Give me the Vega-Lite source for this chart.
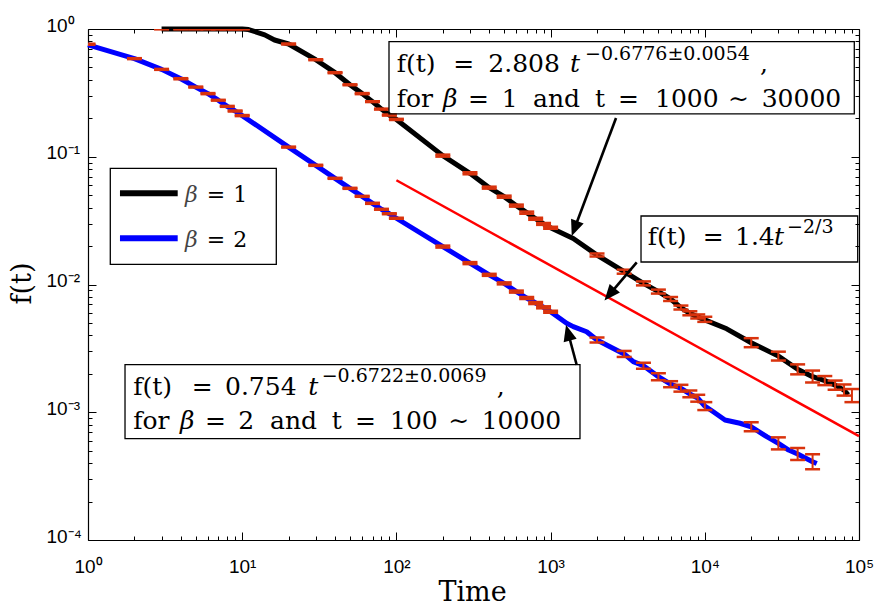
{
  "$schema": "https://vega.github.io/schema/vega-lite/v6.json",
  "width": 771,
  "height": 511,
  "autosize": {"type": "none"},
  "padding": {"left": 88, "top": 29, "right": 32, "bottom": 72},
  "background": "white",
  "config": {
    "view": {"stroke": null},
    "axis": {"domainColor": "black", "tickColor": "black", "labelColor": "black", "titleColor": "black", "grid": false}
  },
  "datasets": {
    "curves": [
      {"s": "b1", "t": 3, "f": 1}, {"s": "b1", "t": 6, "f": 1}, {"s": "b1", "t": 10, "f": 1},
      {"s": "b1", "t": 11, "f": 0.99}, {"s": "b1", "t": 14, "f": 0.9}, {"s": "b1", "t": 16.2, "f": 0.82},
      {"s": "b1", "t": 20, "f": 0.763}, {"s": "b1", "t": 30, "f": 0.575}, {"s": "b1", "t": 40, "f": 0.455},
      {"s": "b1", "t": 50, "f": 0.366}, {"s": "b1", "t": 60, "f": 0.312}, {"s": "b1", "t": 70, "f": 0.27},
      {"s": "b1", "t": 80, "f": 0.236}, {"s": "b1", "t": 90, "f": 0.212}, {"s": "b1", "t": 100, "f": 0.196},
      {"s": "b1", "t": 200, "f": 0.102}, {"s": "b1", "t": 300, "f": 0.0742}, {"s": "b1", "t": 400, "f": 0.0573},
      {"s": "b1", "t": 500, "f": 0.0487}, {"s": "b1", "t": 600, "f": 0.0414}, {"s": "b1", "t": 700, "f": 0.0365},
      {"s": "b1", "t": 800, "f": 0.0327}, {"s": "b1", "t": 900, "f": 0.0298}, {"s": "b1", "t": 1000, "f": 0.0278},
      {"s": "b1", "t": 1403, "f": 0.0229}, {"s": "b1", "t": 2000, "f": 0.017}, {"s": "b1", "t": 3000, "f": 0.0126},
      {"s": "b1", "t": 4000, "f": 0.0102}, {"s": "b1", "t": 5000, "f": 0.0088}, {"s": "b1", "t": 6000, "f": 0.0077},
      {"s": "b1", "t": 7000, "f": 0.0066}, {"s": "b1", "t": 8000, "f": 0.00595}, {"s": "b1", "t": 9000, "f": 0.00558},
      {"s": "b1", "t": 10000, "f": 0.00528}, {"s": "b1", "t": 13870, "f": 0.0045}, {"s": "b1", "t": 20000, "f": 0.0035},
      {"s": "b1", "t": 30000, "f": 0.00275}, {"s": "b1", "t": 40000, "f": 0.00217}, {"s": "b1", "t": 50000, "f": 0.0019},
      {"s": "b1", "t": 60000, "f": 0.00177}, {"s": "b1", "t": 70000, "f": 0.00163}, {"s": "b1", "t": 80000, "f": 0.00149},
      {"s": "b1", "t": 85000, "f": 0.00137},
      {"s": "b2", "t": 1, "f": 0.75}, {"s": "b2", "t": 2, "f": 0.586}, {"s": "b2", "t": 3, "f": 0.483},
      {"s": "b2", "t": 4, "f": 0.408}, {"s": "b2", "t": 5, "f": 0.351}, {"s": "b2", "t": 6, "f": 0.312},
      {"s": "b2", "t": 7, "f": 0.277}, {"s": "b2", "t": 8, "f": 0.248}, {"s": "b2", "t": 9, "f": 0.228},
      {"s": "b2", "t": 10, "f": 0.21}, {"s": "b2", "t": 20, "f": 0.119}, {"s": "b2", "t": 30, "f": 0.0857},
      {"s": "b2", "t": 40, "f": 0.0678}, {"s": "b2", "t": 50, "f": 0.0566}, {"s": "b2", "t": 60, "f": 0.049},
      {"s": "b2", "t": 70, "f": 0.0432}, {"s": "b2", "t": 80, "f": 0.0388}, {"s": "b2", "t": 90, "f": 0.0358},
      {"s": "b2", "t": 100, "f": 0.033}, {"s": "b2", "t": 200, "f": 0.0198}, {"s": "b2", "t": 300, "f": 0.0147},
      {"s": "b2", "t": 400, "f": 0.0119}, {"s": "b2", "t": 500, "f": 0.0102}, {"s": "b2", "t": 600, "f": 0.0088},
      {"s": "b2", "t": 700, "f": 0.00784}, {"s": "b2", "t": 800, "f": 0.00716}, {"s": "b2", "t": 900, "f": 0.00663},
      {"s": "b2", "t": 1000, "f": 0.00612}, {"s": "b2", "t": 1271, "f": 0.00497}, {"s": "b2", "t": 1403, "f": 0.00468},
      {"s": "b2", "t": 1714, "f": 0.00427}, {"s": "b2", "t": 2000, "f": 0.00368}, {"s": "b2", "t": 2427, "f": 0.00326},
      {"s": "b2", "t": 3000, "f": 0.00286}, {"s": "b2", "t": 3437, "f": 0.00249}, {"s": "b2", "t": 4000, "f": 0.00231},
      {"s": "b2", "t": 5000, "f": 0.0019}, {"s": "b2", "t": 6000, "f": 0.00166}, {"s": "b2", "t": 7000, "f": 0.00154},
      {"s": "b2", "t": 8000, "f": 0.00139}, {"s": "b2", "t": 9000, "f": 0.00129}, {"s": "b2", "t": 10000, "f": 0.00112},
      {"s": "b2", "t": 11350, "f": 0.00101}, {"s": "b2", "t": 13520, "f": 0.00087}, {"s": "b2", "t": 16900, "f": 0.00082},
      {"s": "b2", "t": 20000, "f": 0.00077}, {"s": "b2", "t": 25200, "f": 0.000644}, {"s": "b2", "t": 30000, "f": 0.000571},
      {"s": "b2", "t": 35000, "f": 0.000506}, {"s": "b2", "t": 40000, "f": 0.000471}, {"s": "b2", "t": 50000, "f": 0.00041},
      {"s": "b2", "t": 53200, "f": 0.000397}
    ],
    "fit": [{"t": 100, "f": 0.0655}, {"t": 100000, "f": 0.00065}],
    "err": [
      {"t": 3, "lo": 0.996, "hi": 1}, {"t": 4, "lo": 0.996, "hi": 1}, {"t": 5, "lo": 0.996, "hi": 1},
      {"t": 6, "lo": 0.996, "hi": 1}, {"t": 7, "lo": 0.996, "hi": 1}, {"t": 8, "lo": 0.996, "hi": 1},
      {"t": 9, "lo": 0.996, "hi": 1}, {"t": 10, "lo": 0.996, "hi": 1},
      {"t": 20, "lo": 0.756, "hi": 0.77}, {"t": 30, "lo": 0.57, "hi": 0.58}, {"t": 40, "lo": 0.451, "hi": 0.459},
      {"t": 50, "lo": 0.363, "hi": 0.369}, {"t": 60, "lo": 0.309, "hi": 0.315}, {"t": 70, "lo": 0.268, "hi": 0.272},
      {"t": 80, "lo": 0.234, "hi": 0.238}, {"t": 90, "lo": 0.21, "hi": 0.214}, {"t": 100, "lo": 0.194, "hi": 0.198},
      {"t": 200, "lo": 0.1002, "hi": 0.1039}, {"t": 300, "lo": 0.0729, "hi": 0.0756}, {"t": 400, "lo": 0.0563, "hi": 0.0583},
      {"t": 500, "lo": 0.0478, "hi": 0.0496}, {"t": 600, "lo": 0.0407, "hi": 0.0422}, {"t": 700, "lo": 0.0358, "hi": 0.0372},
      {"t": 800, "lo": 0.0321, "hi": 0.0333}, {"t": 900, "lo": 0.0293, "hi": 0.0303}, {"t": 1000, "lo": 0.0273, "hi": 0.0283},
      {"t": 2000, "lo": 0.01655, "hi": 0.01747}, {"t": 3000, "lo": 0.01215, "hi": 0.01306}, {"t": 4000, "lo": 0.00984, "hi": 0.01057},
      {"t": 5000, "lo": 0.00849, "hi": 0.00912}, {"t": 6000, "lo": 0.00743, "hi": 0.00798}, {"t": 7000, "lo": 0.00637, "hi": 0.00684},
      {"t": 8000, "lo": 0.00574, "hi": 0.00617}, {"t": 9000, "lo": 0.00542, "hi": 0.00583}, {"t": 10000, "lo": 0.0051, "hi": 0.00559},
      {"t": 20000, "lo": 0.00323, "hi": 0.0038}, {"t": 30000, "lo": 0.00254, "hi": 0.00298}, {"t": 40000, "lo": 0.00198, "hi": 0.00237},
      {"t": 50000, "lo": 0.00171, "hi": 0.00212}, {"t": 60000, "lo": 0.00163, "hi": 0.00192}, {"t": 70000, "lo": 0.0015, "hi": 0.00177},
      {"t": 80000, "lo": 0.00135, "hi": 0.00165}, {"t": 90000, "lo": 0.0012, "hi": 0.00152},
      {"t": 1, "lo": 0.753, "hi": 0.767}, {"t": 2, "lo": 0.581, "hi": 0.591}, {"t": 3, "lo": 0.479, "hi": 0.487},
      {"t": 4, "lo": 0.404, "hi": 0.412}, {"t": 5, "lo": 0.348, "hi": 0.354}, {"t": 6, "lo": 0.309, "hi": 0.315},
      {"t": 7, "lo": 0.275, "hi": 0.279}, {"t": 8, "lo": 0.246, "hi": 0.25}, {"t": 9, "lo": 0.226, "hi": 0.23},
      {"t": 10, "lo": 0.208, "hi": 0.212}, {"t": 20, "lo": 0.118, "hi": 0.12}, {"t": 30, "lo": 0.0849, "hi": 0.0865},
      {"t": 40, "lo": 0.0672, "hi": 0.0684}, {"t": 50, "lo": 0.0561, "hi": 0.0571}, {"t": 60, "lo": 0.0486, "hi": 0.0494},
      {"t": 70, "lo": 0.0428, "hi": 0.0436}, {"t": 80, "lo": 0.0385, "hi": 0.0391}, {"t": 90, "lo": 0.0355, "hi": 0.0361},
      {"t": 100, "lo": 0.0327, "hi": 0.0333}, {"t": 200, "lo": 0.01945, "hi": 0.02016}, {"t": 300, "lo": 0.01444, "hi": 0.01497},
      {"t": 400, "lo": 0.01169, "hi": 0.01212}, {"t": 500, "lo": 0.01002, "hi": 0.01039}, {"t": 600, "lo": 0.00864, "hi": 0.00896},
      {"t": 700, "lo": 0.0077, "hi": 0.00798}, {"t": 800, "lo": 0.00703, "hi": 0.00729}, {"t": 900, "lo": 0.00651, "hi": 0.00675},
      {"t": 1000, "lo": 0.00601, "hi": 0.00623}, {"t": 2000, "lo": 0.00352, "hi": 0.00385}, {"t": 3000, "lo": 0.00271, "hi": 0.00302},
      {"t": 4000, "lo": 0.00219, "hi": 0.00244}, {"t": 5000, "lo": 0.00178, "hi": 0.00202}, {"t": 6000, "lo": 0.00157, "hi": 0.00175},
      {"t": 7000, "lo": 0.00145, "hi": 0.00164}, {"t": 8000, "lo": 0.00131, "hi": 0.00148}, {"t": 9000, "lo": 0.00121, "hi": 0.00137},
      {"t": 10000, "lo": 0.00104, "hi": 0.0012}, {"t": 20000, "lo": 0.00071, "hi": 0.000835}, {"t": 30000, "lo": 0.000512, "hi": 0.000636},
      {"t": 40000, "lo": 0.000423, "hi": 0.000525}, {"t": 50000, "lo": 0.000358, "hi": 0.000469}
    ],
    "boxes": [
      {"x1": 89.54, "x2": 93220, "y1": 0.7954, "y2": 0.2162},
      {"x1": 3858, "x2": 98080, "y1": 0.03437, "y2": 0.015},
      {"x1": 1.738, "x2": 1551, "y1": 0.002356, "y2": 0.000621},
      {"x1": 1.395, "x2": 16.64, "y1": 0.08122, "y2": 0.01439}
    ],
    "legendLines": [
      {"s": "b1", "t1": 1.612, "t2": 3.817, "f": 0.05174},
      {"s": "b2", "t1": 1.612, "t2": 3.817, "f": 0.02299}
    ],
    "shafts": [
      {"t1": 2656, "f1": 0.201, "t2": 1429, "f2": 0.02744},
      {"t1": 3618, "f1": 0.01492, "t2": 2415, "f2": 0.00837},
      {"t1": 1477, "f1": 0.002344, "t2": 1298, "f2": 0.004193}
    ],
    "txt": [
      {"text": "f(t)", "t": 100.4, "f": 0.4607}, {"text": "=", "t": 233.9, "f": 0.4607},
      {"text": "2.808", "t": 394.5, "f": 0.4607}, {"text": ",", "t": 22800, "f": 0.4607},
      {"text": "for", "t": 100.4, "f": 0.2465}, {"text": "=", "t": 291.2, "f": 0.2465},
      {"text": "1", "t": 481.8, "f": 0.2465}, {"text": "and", "t": 768.9, "f": 0.2465},
      {"text": "t", "t": 1941, "f": 0.2465}, {"text": "=", "t": 2736, "f": 0.2465},
      {"text": "1000", "t": 4753, "f": 0.2465}, {"text": "∼", "t": 14150, "f": 0.2465},
      {"text": "30000", "t": 23390, "f": 0.2465},
      {"text": "f(t)", "t": 4263, "f": 0.02026}, {"text": "=", "t": 9692, "f": 0.02026},
      {"text": "1.4", "t": 15700, "f": 0.02026},
      {"text": "f(t)", "t": 1.967, "f": 0.001372}, {"text": "=", "t": 4.705, "f": 0.001372},
      {"text": "0.754", "t": 7.735, "f": 0.001372}, {"text": ",", "t": 447.2, "f": 0.001372},
      {"text": "for", "t": 1.967, "f": 0.000743}, {"text": "=", "t": 5.739, "f": 0.000743},
      {"text": "2", "t": 9.435, "f": 0.000743}, {"text": "and", "t": 15.15, "f": 0.000743},
      {"text": "t", "t": 38.06, "f": 0.000743}, {"text": "=", "t": 53.89, "f": 0.000743},
      {"text": "100", "t": 90.88, "f": 0.000743}, {"text": "∼", "t": 217.1, "f": 0.000743},
      {"text": "10000", "t": 357.5, "f": 0.000743}
    ],
    "txtItalic": [
      {"text": "t", "t": 1336, "f": 0.4607}, {"text": "β", "t": 200.6, "f": 0.2465},
      {"text": "t", "t": 28110, "f": 0.02026}, {"text": "t", "t": 26.84, "f": 0.001372},
      {"text": "β", "t": 3.95, "f": 0.000743}
    ],
    "txtExp": [
      {"text": "−0.6776±0.0054", "t": 1672, "f": 0.5771},
      {"text": "−2/3", "t": 34140, "f": 0.02543},
      {"text": "−0.6722±0.0069", "t": 32.77, "f": 0.001725}
    ],
    "legTxt": [
      {"text": "=", "t": 5.886, "f": 0.04398}, {"text": "1", "t": 8.754, "f": 0.04398},
      {"text": "=", "t": 5.886, "f": 0.01976}, {"text": "2", "t": 8.754, "f": 0.01976}
    ],
    "legItalic": [
      {"text": "β", "t": 4.257, "f": 0.04398}, {"text": "β", "t": 4.257, "f": 0.01976}
    ]
  },
  "layer": [
    {
      "data": {"name": "fit"},
      "mark": {"type": "line", "color": "#ff0000", "strokeWidth": 2.5},
      "encoding": {
        "x": {"field": "t", "type": "quantitative", "scale": {"type": "log", "domain": [1, 100000], "nice": false},
          "axis": {"orient": "bottom", "title": null, "labels": false, "domain": false, "ticks": true, "tickWidth": 1,
            "values": [1,2,3,4,5,6,7,8,9,10,20,30,40,50,60,70,80,90,100,200,300,400,500,600,700,800,900,1000,2000,3000,4000,5000,6000,7000,8000,9000,10000,20000,30000,40000,50000,60000,70000,80000,90000,100000],
            "tickSize": {"condition": {"test": "indexof([1,10,100,1000,10000,100000], datum.value) >= 0", "value": -8}, "value": -4}}},
        "y": {"field": "f", "type": "quantitative", "scale": {"type": "log", "domain": [0.0001, 1], "nice": false},
          "axis": {"orient": "left", "title": null, "labels": false, "domain": false, "ticks": true, "tickWidth": 1,
            "values": [0.0001,0.0002,0.0003,0.0004,0.0005,0.0006,0.0007,0.0008,0.0009,0.001,0.002,0.003,0.004,0.005,0.006,0.007,0.008,0.009,0.01,0.02,0.03,0.04,0.05,0.06,0.07,0.08,0.09,0.1,0.2,0.3,0.4,0.5,0.6,0.7,0.8,0.9,1],
            "tickSize": {"condition": {"test": "indexof([0.0001,0.001,0.01,0.1,1], datum.value) >= 0", "value": -8}, "value": -4}}}
      }
    },
    {
      "data": {"name": "curves"},
      "mark": {"type": "line", "strokeWidth": 5, "strokeJoin": "round"},
      "encoding": {
        "x": {"field": "t", "type": "quantitative", "scale": {"type": "log", "domain": [1, 100000], "nice": false},
          "axis": {"orient": "bottom", "ticks": false, "domain": true, "domainWidth": 1.2,
            "values": [1,2,3,4,5,6,7,8,9,10,20,30,40,50,60,70,80,90,100,200,300,400,500,600,700,800,900,1000,2000,3000,4000,5000,6000,7000,8000,9000,10000,20000,30000,40000,50000,60000,70000,80000,90000,100000],
            "labelExpr": "datum.value == 1 ? '10⁰' : datum.value == 10 ? '10¹' : datum.value == 100 ? '10²' : datum.value == 1000 ? '10³' : datum.value == 10000 ? '10⁴' : datum.value == 100000 ? '10⁵' : ''",
            "labelFont": "Liberation Sans", "labelFontSize": 19, "labelPadding": 17, "labelOverlap": false, "labelFlush": false, "labelBound": false,
            "title": "Time", "titleFont": "DejaVu Serif", "titleFontSize": 27, "titleFontWeight": "normal",
            "titleX": 384, "titleY": 60, "titleAlign": "center", "titleBaseline": "alphabetic", "titleAngle": 0}},
        "y": {"field": "f", "type": "quantitative", "scale": {"type": "log", "domain": [0.0001, 1], "nice": false},
          "axis": {"orient": "left", "ticks": false, "domain": true, "domainWidth": 1.2,
            "values": [0.0001,0.0002,0.0003,0.0004,0.0005,0.0006,0.0007,0.0008,0.0009,0.001,0.002,0.003,0.004,0.005,0.006,0.007,0.008,0.009,0.01,0.02,0.03,0.04,0.05,0.06,0.07,0.08,0.09,0.1,0.2,0.3,0.4,0.5,0.6,0.7,0.8,0.9,1],
            "labelExpr": "datum.value == 1 ? '10⁰' : datum.value == 0.1 ? '10⁻¹' : datum.value == 0.01 ? '10⁻²' : datum.value == 0.001 ? '10⁻³' : datum.value == 0.0001 ? '10⁻⁴' : ''",
            "labelFont": "Liberation Sans", "labelFontSize": 19, "labelAlign": "left", "labelBaseline": "middle", "labelPadding": 42, "labelOffset": -4,
            "labelOverlap": false, "labelFlush": false, "labelBound": false,
            "title": "f(t)", "titleFont": "DejaVu Serif", "titleFontSize": 27, "titleFontWeight": "normal",
            "titleX": -66, "titleY": 254, "titleAlign": "center", "titleBaseline": "middle", "titleAngle": -90}},
        "color": {"field": "s", "type": "nominal", "scale": {"domain": ["b1", "b2"], "range": ["#000000", "#0000ff"]}, "legend": null}
      }
    },
    {
      "data": {"name": "err"},
      "mark": {"type": "rule", "color": "#d9330d", "strokeWidth": 2, "clip": true},
      "encoding": {
        "x": {"field": "t", "type": "quantitative", "scale": {"type": "log", "domain": [1, 100000], "nice": false},
          "axis": {"orient": "top", "title": null, "labels": false, "domain": true, "domainWidth": 1.2, "ticks": true, "tickWidth": 1,
            "values": [1,2,3,4,5,6,7,8,9,10,20,30,40,50,60,70,80,90,100,200,300,400,500,600,700,800,900,1000,2000,3000,4000,5000,6000,7000,8000,9000,10000,20000,30000,40000,50000,60000,70000,80000,90000,100000],
            "tickSize": {"condition": {"test": "indexof([1,10,100,1000,10000,100000], datum.value) >= 0", "value": -8}, "value": -4}}},
        "y": {"field": "lo", "type": "quantitative", "scale": {"type": "log", "domain": [0.0001, 1], "nice": false},
          "axis": {"orient": "right", "title": null, "labels": false, "domain": true, "domainWidth": 1.2, "ticks": true, "tickWidth": 1,
            "values": [0.0001,0.0002,0.0003,0.0004,0.0005,0.0006,0.0007,0.0008,0.0009,0.001,0.002,0.003,0.004,0.005,0.006,0.007,0.008,0.009,0.01,0.02,0.03,0.04,0.05,0.06,0.07,0.08,0.09,0.1,0.2,0.3,0.4,0.5,0.6,0.7,0.8,0.9,1],
            "tickSize": {"condition": {"test": "indexof([0.0001,0.001,0.01,0.1,1], datum.value) >= 0", "value": -8}, "value": -4}}},
        "y2": {"field": "hi"}
      }
    },
    {
      "data": {"name": "err"},
      "mark": {"type": "tick", "orient": "horizontal", "color": "#d9330d", "size": 15, "thickness": 2.5, "opacity": 1, "clip": true},
      "encoding": {
        "x": {"field": "t", "type": "quantitative", "scale": {"type": "log", "domain": [1, 100000], "nice": false}, "axis": null},
        "y": {"field": "lo", "type": "quantitative", "scale": {"type": "log", "domain": [0.0001, 1], "nice": false}, "axis": null}
      }
    },
    {
      "data": {"name": "err"},
      "mark": {"type": "tick", "orient": "horizontal", "color": "#d9330d", "size": 15, "thickness": 2.5, "opacity": 1, "clip": true},
      "encoding": {
        "x": {"field": "t", "type": "quantitative", "scale": {"type": "log", "domain": [1, 100000], "nice": false}, "axis": null},
        "y": {"field": "hi", "type": "quantitative", "scale": {"type": "log", "domain": [0.0001, 1], "nice": false}, "axis": null}
      }
    },
    {
      "data": {"name": "boxes"},
      "mark": {"type": "rect", "fill": null, "fillOpacity": 0, "stroke": "black", "strokeWidth": 1.3},
      "encoding": {
        "x": {"field": "x1", "type": "quantitative", "scale": {"type": "log", "domain": [1, 100000], "nice": false}, "axis": null},
        "x2": {"field": "x2"},
        "y": {"field": "y1", "type": "quantitative", "scale": {"type": "log", "domain": [0.0001, 1], "nice": false}, "axis": null},
        "y2": {"field": "y2"}
      }
    },
    {
      "data": {"name": "legendLines"},
      "mark": {"type": "rule", "strokeWidth": 6},
      "encoding": {
        "x": {"field": "t1", "type": "quantitative", "scale": {"type": "log", "domain": [1, 100000], "nice": false}, "axis": null},
        "x2": {"field": "t2"},
        "y": {"field": "f", "type": "quantitative", "scale": {"type": "log", "domain": [0.0001, 1], "nice": false}, "axis": null},
        "color": {"field": "s", "type": "nominal", "scale": {"domain": ["b1", "b2"], "range": ["#000000", "#0000ff"]}, "legend": null}
      }
    },
    {
      "data": {"name": "shafts"},
      "mark": {"type": "rule", "color": "black", "strokeWidth": 2.6},
      "encoding": {
        "x": {"field": "t1", "type": "quantitative", "scale": {"type": "log", "domain": [1, 100000], "nice": false}, "axis": null},
        "x2": {"field": "t2"},
        "y": {"field": "f1", "type": "quantitative", "scale": {"type": "log", "domain": [0.0001, 1], "nice": false}, "axis": null},
        "y2": {"field": "f2"}
      }
    },
    {
      "data": {"values": [{"t": 1371, "f": 0.02396}]},
      "mark": {"type": "point", "shape": "M0,0L-0.42,1L0.42,1Z", "size": 1024, "filled": true, "color": "black", "opacity": 1, "angle": 200.6},
      "encoding": {
        "x": {"field": "t", "type": "quantitative", "scale": {"type": "log", "domain": [1, 100000], "nice": false}, "axis": null},
        "y": {"field": "f", "type": "quantitative", "scale": {"type": "log", "domain": [0.0001, 1], "nice": false}, "axis": null}
      }
    },
    {
      "data": {"values": [{"t": 2236, "f": 0.007494}]},
      "mark": {"type": "point", "shape": "M0,0L-0.42,1L0.42,1Z", "size": 1024, "filled": true, "color": "black", "opacity": 1, "angle": 220.1},
      "encoding": {
        "x": {"field": "t", "type": "quantitative", "scale": {"type": "log", "domain": [1, 100000], "nice": false}, "axis": null},
        "y": {"field": "f", "type": "quantitative", "scale": {"type": "log", "domain": [0.0001, 1], "nice": false}, "axis": null}
      }
    },
    {
      "data": {"values": [{"t": 1259, "f": 0.004819}]},
      "mark": {"type": "point", "shape": "M0,0L-0.42,1L0.42,1Z", "size": 1024, "filled": true, "color": "black", "opacity": 1, "angle": 345},
      "encoding": {
        "x": {"field": "t", "type": "quantitative", "scale": {"type": "log", "domain": [1, 100000], "nice": false}, "axis": null},
        "y": {"field": "f", "type": "quantitative", "scale": {"type": "log", "domain": [0.0001, 1], "nice": false}, "axis": null}
      }
    },
    {
      "data": {"name": "txt"},
      "mark": {"type": "text", "font": "DejaVu Serif", "fontSize": 25, "color": "black", "align": "left", "baseline": "alphabetic"},
      "encoding": {
        "x": {"field": "t", "type": "quantitative", "scale": {"type": "log", "domain": [1, 100000], "nice": false}, "axis": null},
        "y": {"field": "f", "type": "quantitative", "scale": {"type": "log", "domain": [0.0001, 1], "nice": false}, "axis": null},
        "text": {"field": "text"}
      }
    },
    {
      "data": {"name": "txtItalic"},
      "mark": {"type": "text", "font": "DejaVu Serif", "fontStyle": "italic", "fontSize": 25, "color": "black", "align": "left", "baseline": "alphabetic"},
      "encoding": {
        "x": {"field": "t", "type": "quantitative", "scale": {"type": "log", "domain": [1, 100000], "nice": false}, "axis": null},
        "y": {"field": "f", "type": "quantitative", "scale": {"type": "log", "domain": [0.0001, 1], "nice": false}, "axis": null},
        "text": {"field": "text"}
      }
    },
    {
      "data": {"name": "txtExp"},
      "mark": {"type": "text", "font": "DejaVu Serif", "fontSize": 19, "color": "black", "align": "left", "baseline": "alphabetic"},
      "encoding": {
        "x": {"field": "t", "type": "quantitative", "scale": {"type": "log", "domain": [1, 100000], "nice": false}, "axis": null},
        "y": {"field": "f", "type": "quantitative", "scale": {"type": "log", "domain": [0.0001, 1], "nice": false}, "axis": null},
        "text": {"field": "text"}
      }
    },
    {
      "data": {"name": "legTxt"},
      "mark": {"type": "text", "font": "DejaVu Serif", "fontSize": 22, "color": "black", "align": "left", "baseline": "alphabetic"},
      "encoding": {
        "x": {"field": "t", "type": "quantitative", "scale": {"type": "log", "domain": [1, 100000], "nice": false}, "axis": null},
        "y": {"field": "f", "type": "quantitative", "scale": {"type": "log", "domain": [0.0001, 1], "nice": false}, "axis": null},
        "text": {"field": "text"}
      }
    },
    {
      "data": {"name": "legItalic"},
      "mark": {"type": "text", "font": "DejaVu Serif", "fontStyle": "italic", "fontSize": 22, "color": "#444444", "align": "left", "baseline": "alphabetic"},
      "encoding": {
        "x": {"field": "t", "type": "quantitative", "scale": {"type": "log", "domain": [1, 100000], "nice": false}, "axis": null},
        "y": {"field": "f", "type": "quantitative", "scale": {"type": "log", "domain": [0.0001, 1], "nice": false}, "axis": null},
        "text": {"field": "text"}
      }
    }
  ],
  "resolve": {"axis": {"x": "independent", "y": "independent"}}
}
